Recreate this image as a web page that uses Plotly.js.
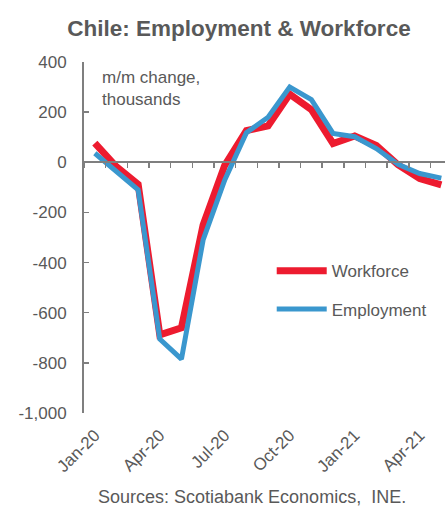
<!DOCTYPE html>
<html>
<head>
<meta charset="utf-8">
<script src="https://cdn.plot.ly/plotly-3.0.1.min.js"></script>
<style>html,body{margin:0;padding:0;background:#fff;}#chart{width:445px;height:508px;}</style>
</head>
<body>
<div id="chart"></div>
<script>
var months = ["Jan-20","Feb-20","Mar-20","Apr-20","May-20","Jun-20","Jul-20","Aug-20","Sep-20","Oct-20","Nov-20","Dec-20","Jan-21","Feb-21","Mar-21","Apr-21","May-21"];
var workforce = [76, -18, -88, -688, -660, -250, -12, 126, 145, 272, 210, 75, 105, 67, -10, -65, -90];
var employment = [36, -35, -110, -705, -785, -310, -70, 118, 180, 300, 250, 115, 102, 55, -8, -45, -63];
var xTickVals = ["Jan-20","Apr-20","Jul-20","Oct-20","Jan-21","Apr-21"];
var yTickVals = [-1000, -800, -600, -400, -200, 0, 200, 400];
var yTickText = ["-1,000", "-800", "-600", "-400", "-200", "0", "200", "400"];

var gray = "#595959";
var axisGray = "#7f7f7f";
var font = "Liberation Sans, Arial, sans-serif";
var fs = 17;
var xr = [-0.5, 16.17];

var traces = [
  {x: months, y: workforce, name: "Workforce", type: "scatter", mode: "lines",
   line: {color: "#ED1B2F", width: 7}, xaxis: "x", yaxis: "y", legendgroup: "a"},
  {x: months, y: employment, name: "Employment", type: "scatter", mode: "lines",
   line: {color: "#3A97CE", width: 5}, xaxis: "x2", yaxis: "y", legendgroup: "b"}
];

var layout = {
  width: 445, height: 508,
  margin: {l: 84, r: 0, t: 62, b: 95},
  paper_bgcolor: "#fff", plot_bgcolor: "rgba(0,0,0,0)",
  font: {family: font, size: fs, color: gray},
  title: {text: "<b>Chile: Employment & Workforce</b>", font: {family: font, size: 22.5, color: gray},
          x: 0.537, xanchor: "center", y: 0.945, yanchor: "middle"},
  xaxis: {type: "category", range: xr, tickmode: "array", tickvals: xTickVals, ticktext: xTickVals,
          tickangle: -45, ticks: "", showline: false, showgrid: false, zeroline: false,
          ticklabelstandoff: 8, tickfont: {family: font, size: fs, color: gray}},
  xaxis2: {type: "category", range: xr, overlaying: "x", anchor: "free", position: 1000/1400,
           side: "bottom", showticklabels: false, ticks: "outside", ticklen: 5, tickwidth: 1.5,
           tickcolor: axisGray, tickson: "boundaries", tickmode: "linear", dtick: 1,
           showline: true, linecolor: axisGray, linewidth: 2, showgrid: false, zeroline: false},
  yaxis: {range: [-1000, 400], tickmode: "array", tickvals: yTickVals, ticktext: yTickText,
          ticks: "inside", ticklen: 5, tickwidth: 1.5, tickcolor: axisGray, showline: true,
          linecolor: axisGray, linewidth: 2, showgrid: false, zeroline: false,
          ticklabelstandoff: 12, tickfont: {family: font, size: fs, color: gray}},
  showlegend: true,
  legend: {x: 0.52, y: 0.455, xanchor: "left", yanchor: "top", bgcolor: "rgba(0,0,0,0)",
           font: {family: font, size: fs, color: gray}, tracegroupgap: 13, itemwidth: 50},
  annotations: [
    {text: "m/m change,<br>thousands", xref: "paper", yref: "paper", x: 0.045, y: 0.99,
     xanchor: "left", yanchor: "top", align: "left", showarrow: false,
     font: {family: font, size: fs, color: gray}},
    {text: "Sources: Scotiabank Economics,  INE.", xref: "paper", yref: "paper", x: 0.465, y: -0.24,
     xanchor: "center", yanchor: "middle", showarrow: false,
     font: {family: font, size: 18, color: gray}}
  ]
};

Plotly.newPlot("chart", traces, layout, {displayModeBar: false, staticPlot: true});
</script>
</body>
</html>
